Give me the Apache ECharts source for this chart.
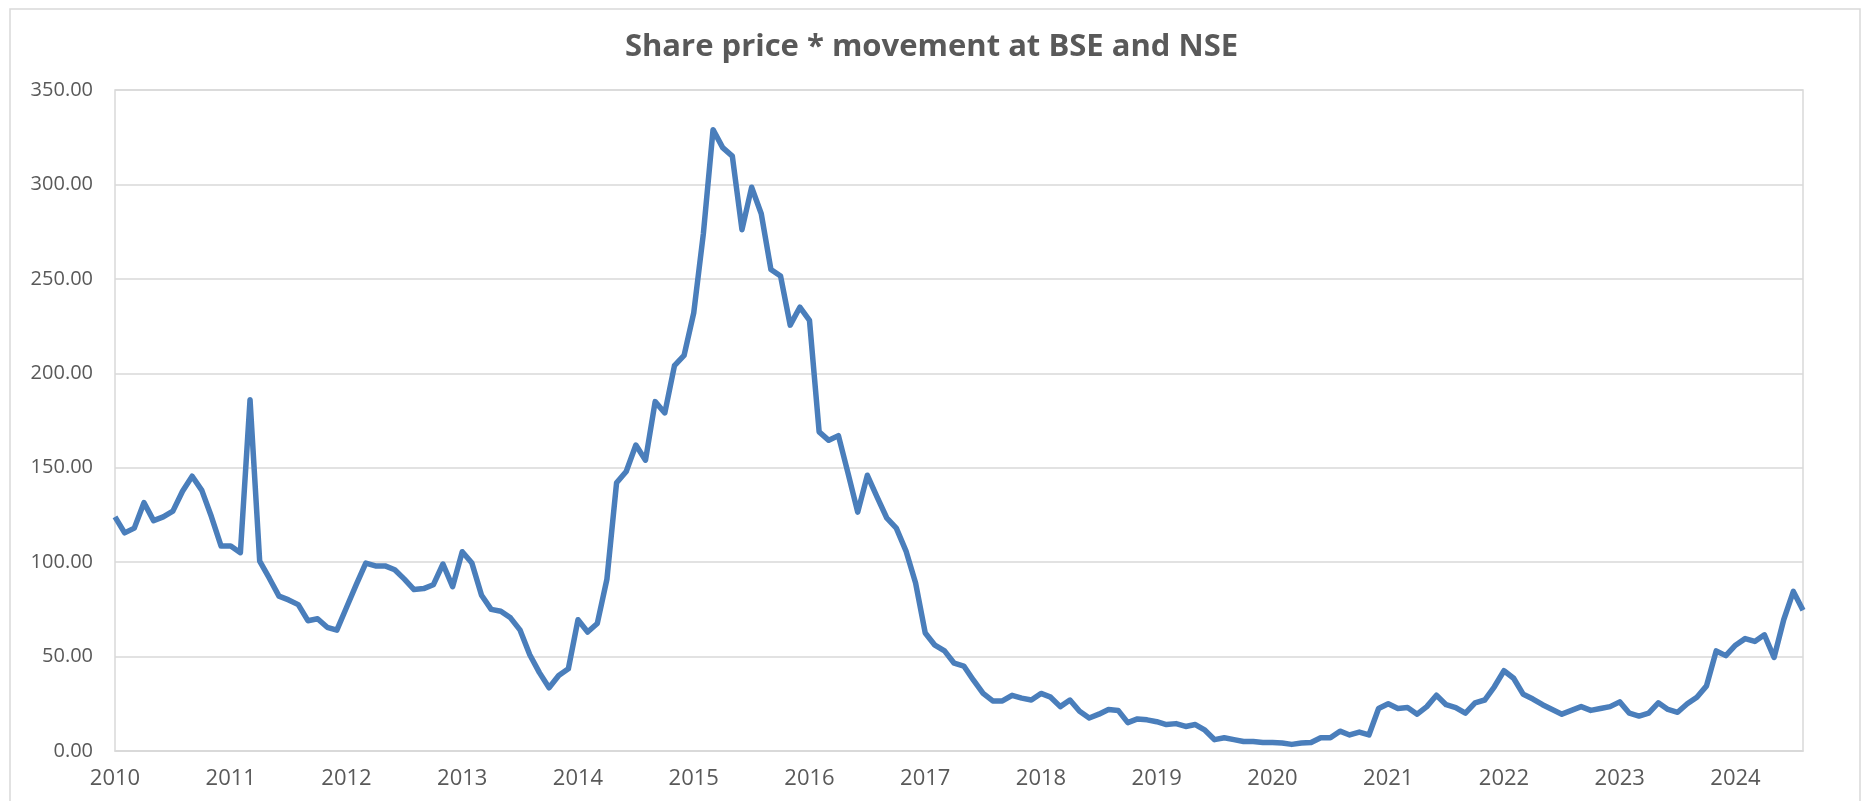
<!DOCTYPE html>
<html>
<head>
<meta charset="utf-8">
<title>Share price movement</title>
<script src="https://cdn.jsdelivr.net/npm/echarts@6/dist/echarts.min.js"></script>
<style>
  html, body { margin: 0; padding: 0; background: #fff; }
  #main { width: 1863px; height: 801px; }
</style>
</head>
<body>
<div id="main"></div>
<script>
// year tick labels (one every 12 months, Jan 2010 .. Aug 2024)
var years = ['2010', '2011', '2012', '2013', '2014', '2015', '2016', '2017',
             '2018', '2019', '2020', '2021', '2022', '2023', '2024'];
var monthsInLastYear = 8;

// monthly share price
var price2010 = [124, 115.5, 118, 131.5, 122, 124, 127, 137.5, 145.5, 138, 124, 108.5];
var price2011 = [108.5, 105, 186, 100.5, 91.5, 82, 80, 77.5, 69, 70, 65.5, 64];
var price2012 = [76, 88, 99.5, 98, 98, 96, 91, 85.5, 86, 88, 99, 87];
var price2013 = [105.5, 99.5, 82.5, 75, 74, 70.5, 64, 51, 41.5, 33.5, 40, 43.5];
var price2014 = [69.5, 63, 67.5, 91, 142, 148, 162, 154, 185, 179, 204, 209.5];
var price2015 = [232, 274, 329, 319.5, 315, 276, 298.5, 284.5, 255, 251.5, 225.5, 235];
var price2016 = [228, 169, 164.5, 167, 147, 126.5, 146, 134.5, 123.5, 118, 106, 89];
var price2017 = [62.5, 56, 53, 46.5, 45, 37.5, 30.5, 26.5, 26.5, 29.5, 28, 27];
var price2018 = [30.5, 28.5, 23.5, 27, 21, 17.5, 19.5, 22, 21.5, 15, 17, 16.5];
var price2019 = [15.5, 14, 14.5, 13, 14, 11, 6, 7, 6, 5, 5, 4.5];
var price2020 = [4.5, 4.2, 3.5, 4.2, 4.5, 7, 7, 10.5, 8.5, 10, 8.5, 22.5];
var price2021 = [25, 22.5, 23, 19.5, 23.5, 29.5, 24.5, 23, 20, 25.5, 27, 34];
var price2022 = [42.5, 38.5, 30, 27.5, 24.5, 22, 19.5, 21.5, 23.5, 21.5, 22.5, 23.5];
var price2023 = [26, 20, 18.5, 20, 25.5, 22, 20.5, 25, 28.5, 34.5, 53, 50.5];
var price2024 = [56, 59.5, 58, 61.5, 49.5, 69.5, 84.5, 74.5];

var prices = [].concat(price2010, price2011, price2012, price2013, price2014,
  price2015, price2016, price2017, price2018, price2019, price2020, price2021,
  price2022, price2023, price2024);

// month categories, labelled only at each January
var months = [];
years.forEach(function (y, i) {
  var n = i === years.length - 1 ? monthsInLastYear : 12;
  for (var m = 1; m <= n; m++) {
    months.push(y + '-' + (m < 10 ? '0' + m : m));
  }
});

var chart = echarts.init(document.getElementById('main'), null, { renderer: 'canvas' });

var option = {
  backgroundColor: '#fff',
  animation: false,
  title: {
    text: 'Share price * movement at BSE and NSE',
    left: 'center',
    top: 27,
    textStyle: {
      fontFamily: 'Open Sans',
      fontSize: 31,
      fontWeight: 'bold',
      color: '#595959'
    }
  },
  graphic: [{
    type: 'rect',
    shape: { x: 10, y: 9, width: 1850, height: 820 },
    style: { fill: 'none', stroke: '#d9d9d9', lineWidth: 1.5 },
    silent: true
  }],
  grid: {
    left: 115,
    right: 60,
    top: 90,
    bottom: 50,
    show: true,
    borderColor: '#d9d9d9',
    borderWidth: 1.5
  },
  xAxis: {
    type: 'category',
    data: months,
    boundaryGap: false,
    axisLine: { lineStyle: { color: '#d9d9d9', width: 1.5 } },
    axisTick: { show: false },
    axisLabel: {
      interval: 11,
      margin: 17,
      fontFamily: 'Open Sans',
      fontSize: 22,
      color: '#595959',
      formatter: function (v) { return v.slice(0, 4); }
    },
    splitLine: { show: false }
  },
  yAxis: {
    type: 'value',
    min: 0,
    max: 350,
    interval: 50,
    axisLine: { show: false },
    axisTick: { show: false },
    axisLabel: {
      margin: 22,
      fontFamily: 'Open Sans',
      fontSize: 20,
      color: '#595959',
      formatter: function (v) { return v.toFixed(2); }
    },
    splitLine: { lineStyle: { color: '#d9d9d9', width: 1.5 } }
  },
  series: [{
    type: 'line',
    data: prices,
    showSymbol: false,
    symbol: 'none',
    lineStyle: { color: '#4a7ebb', width: 5.5, join: 'round' },
    itemStyle: { color: '#4a7ebb' }
  }]
};

chart.setOption(option);
window.addEventListener('resize', chart.resize);
</script>
</body>
</html>
